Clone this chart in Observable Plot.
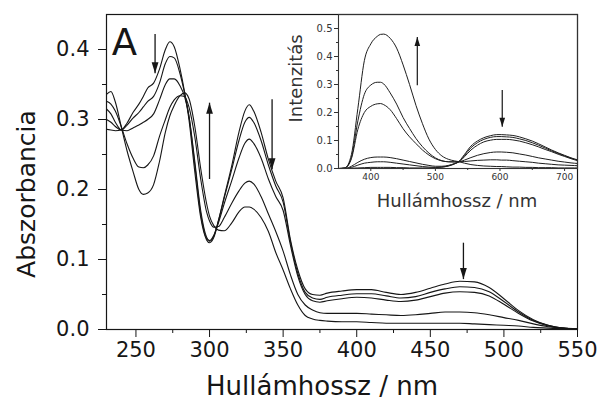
<!DOCTYPE html>
<html><head><meta charset="utf-8">
<script src="https://cdn.jsdelivr.net/npm/d3@7"></script>
<script src="https://cdn.jsdelivr.net/npm/@observablehq/plot@0.6"></script>
<style>
body{margin:0;background:#fff;}
#wrap{position:relative;width:601px;height:412px;background:#fff;}
#wrap svg{position:absolute;top:0;overflow:visible;}
</style></head><body><div id="wrap"></div>
<script>
// ---- Main absorbance spectra ----
const mainWavelength = [230,233,236,240,244,248,252,255,258,262,266,270,273,276,280,283,286,290,294,298,300,303,306,310,315,320,324,327,330,335,340,345,350,355,360,365,370,375,380,390,400,410,420,430,440,450,460,470,480,490,500,510,520,530,540,550];
const absorbance1 = [0.286,0.285,0.284,0.285,0.295,0.310,0.322,0.333,0.345,0.352,0.372,0.400,0.411,0.404,0.372,0.340,0.300,0.225,0.160,0.128,0.124,0.132,0.155,0.190,0.233,0.282,0.312,0.321,0.312,0.282,0.243,0.212,0.188,0.128,0.085,0.058,0.050,0.049,0.052,0.055,0.057,0.057,0.053,0.050,0.053,0.059,0.065,0.069,0.068,0.060,0.044,0.027,0.014,0.006,0.002,0.001];
const absorbance2 = [0.300,0.296,0.290,0.285,0.292,0.302,0.310,0.318,0.326,0.333,0.352,0.380,0.390,0.388,0.365,0.338,0.305,0.235,0.165,0.130,0.126,0.134,0.155,0.188,0.228,0.270,0.296,0.303,0.296,0.270,0.235,0.205,0.182,0.125,0.080,0.053,0.045,0.043,0.046,0.049,0.051,0.051,0.048,0.045,0.047,0.053,0.058,0.061,0.060,0.054,0.040,0.025,0.013,0.006,0.002,0.001];
const absorbance3 = [0.315,0.308,0.296,0.285,0.284,0.288,0.292,0.296,0.300,0.308,0.328,0.350,0.358,0.358,0.348,0.333,0.305,0.240,0.170,0.132,0.127,0.135,0.152,0.180,0.212,0.245,0.266,0.272,0.266,0.245,0.215,0.190,0.170,0.120,0.076,0.050,0.041,0.039,0.041,0.044,0.046,0.045,0.042,0.040,0.042,0.047,0.052,0.054,0.053,0.048,0.036,0.023,0.012,0.005,0.002,0.001];
const absorbance4 = [0.326,0.322,0.312,0.290,0.265,0.245,0.232,0.231,0.235,0.248,0.276,0.300,0.317,0.328,0.334,0.333,0.318,0.275,0.215,0.168,0.155,0.146,0.147,0.160,0.180,0.198,0.209,0.212,0.208,0.190,0.165,0.140,0.112,0.078,0.050,0.035,0.028,0.024,0.023,0.023,0.023,0.022,0.021,0.020,0.021,0.023,0.025,0.025,0.024,0.021,0.017,0.013,0.008,0.004,0.002,0.001];
const absorbance5 = [0.336,0.340,0.325,0.290,0.255,0.226,0.200,0.193,0.195,0.207,0.240,0.282,0.305,0.320,0.334,0.338,0.330,0.290,0.230,0.180,0.162,0.148,0.142,0.141,0.152,0.168,0.175,0.175,0.172,0.160,0.140,0.110,0.085,0.058,0.035,0.020,0.015,0.013,0.012,0.011,0.011,0.010,0.009,0.009,0.009,0.009,0.009,0.009,0.008,0.007,0.006,0.005,0.003,0.002,0.001,0.001];
const mainXTicks = [250,300,350,400,450,500,550];
const mainXMinorTicks = [275,325,375,425,475,525];
const mainYTicks = [0,0.1,0.2,0.3,0.4];
const mainYMinorTicks = [0.05,0.15,0.25,0.35];
const mainArrowWl = [263,300,342.5,472.5];
const mainArrowStart = [0.422,0.215,0.329,0.124];
const mainArrowEnd = [0.366,0.324,0.229,0.072];

// ---- Inset emission spectra ----
const insetWavelength = [350,360,370,380,390,400,410,415,420,430,440,450,460,470,480,490,500,510,520,530,537,545,555,565,575,585,595,602,610,620,630,640,650,660,670,680,690,700,710,720];
const intensityA = [0,0,0.001,0.002,0.003,0.004,0.004,0.004,0.004,0.004,0.003,0.003,0.002,0.002,0.002,0.002,0.003,0.005,0.009,0.017,0.027,0.050,0.080,0.098,0.110,0.117,0.121,0.121,0.120,0.118,0.113,0.106,0.098,0.088,0.077,0.066,0.056,0.047,0.038,0.031];
const intensityB = [0,0,0.004,0.012,0.019,0.022,0.024,0.024,0.024,0.022,0.019,0.016,0.013,0.010,0.007,0.005,0.004,0.005,0.009,0.017,0.025,0.046,0.074,0.092,0.104,0.111,0.114,0.114,0.113,0.111,0.106,0.100,0.092,0.083,0.073,0.063,0.054,0.045,0.037,0.030];
const intensityC = [0,0,0.008,0.022,0.033,0.039,0.041,0.041,0.041,0.039,0.035,0.030,0.025,0.020,0.015,0.011,0.008,0.008,0.011,0.018,0.024,0.042,0.066,0.083,0.095,0.101,0.104,0.104,0.104,0.102,0.098,0.092,0.085,0.077,0.068,0.060,0.051,0.043,0.035,0.028];
const intensityD = [0,0.002,0.035,0.140,0.200,0.222,0.231,0.232,0.228,0.210,0.178,0.142,0.113,0.089,0.066,0.048,0.035,0.027,0.024,0.023,0.024,0.030,0.039,0.047,0.053,0.057,0.059,0.059,0.058,0.056,0.052,0.048,0.043,0.038,0.034,0.030,0.026,0.023,0.020,0.018];
const intensityE = [0,0.002,0.040,0.170,0.265,0.298,0.308,0.308,0.302,0.270,0.230,0.182,0.143,0.107,0.078,0.055,0.038,0.028,0.024,0.024,0.024,0.025,0.027,0.029,0.030,0.031,0.031,0.030,0.030,0.028,0.026,0.024,0.022,0.019,0.017,0.015,0.013,0.012,0.011,0.010];
const intensityF = [0,0.002,0.050,0.215,0.385,0.445,0.472,0.479,0.480,0.465,0.430,0.370,0.300,0.225,0.160,0.105,0.068,0.045,0.033,0.027,0.024,0.019,0.014,0.011,0.009,0.008,0.007,0.007,0.006,0.005,0.005,0.004,0.004,0.003,0.003,0.003,0.002,0.002,0.002,0.002];
const insetXTicks = [400,500,600,700];
const insetXMinorTicks = [450,550,650];
const insetYTicks = [0,0.1,0.2,0.3,0.4,0.5];
const insetYMinorTicks = [0.05,0.15,0.25,0.35,0.45];
const insetArrowWl = [472,603.5];
const insetArrowStart = [0.297,0.28];
const insetArrowEnd = [0.47,0.149];

// ---- helpers ----
const FONT = "DejaVu Sans, Liberation Sans, Arial, sans-serif";
const INK = "#161616";
const upHead = {draw(c){ c.moveTo(0,0); c.lineTo(3.4,11); c.lineTo(-3.4,11); c.closePath(); }};
const downHead = {draw(c){ c.moveTo(0,0); c.lineTo(3.4,-11); c.lineTo(-3.4,-11); c.closePath(); }};
const smallUp = {draw(c){ c.moveTo(0,0); c.lineTo(2.8,9); c.lineTo(-2.8,9); c.closePath(); }};
const smallDown = {draw(c){ c.moveTo(0,0); c.lineTo(2.8,-9); c.lineTo(-2.8,-9); c.closePath(); }};

function tidy(xs, seriesList) {
  return seriesList.flatMap((vals, s) => vals.map((v, i) => ({x: xs[i], y: v, s})));
}
function arrows(wl, a, b) {
  return wl.map((w, i) => ({x: w, from: a[i], to: b[i], up: b[i] > a[i]}));
}

const mainData = tidy(mainWavelength, [absorbance1, absorbance2, absorbance3, absorbance4, absorbance5]);
const mainArrows = arrows(mainArrowWl, mainArrowStart, mainArrowEnd);
const fmt1 = d3.format(".1f");

const main = Plot.plot({
  width: 601, height: 412,
  marginLeft: 106, marginRight: 24, marginTop: 14, marginBottom: 83,
  x: {domain: [230, 550]},
  y: {domain: [0, 0.45]},
  style: {fontFamily: FONT, fontSize: "21px", color: INK, background: "transparent"},
  marks: [
    Plot.axisX(mainXTicks, {tickSize: 8, tickPadding: 5, tickFormat: d => String(d), label: null}),
    Plot.axisX(mainXMinorTicks, {tickSize: 4, tickFormat: () => "", label: null}),
    Plot.axisY(mainYTicks, {tickSize: 8, tickPadding: 9, tickFormat: fmt1, label: null}),
    Plot.axisY(mainYMinorTicks, {tickSize: 4, tickFormat: () => "", label: null}),
    Plot.line(mainData, {x: "x", y: "y", z: "s", stroke: INK, strokeWidth: 1.1, curve: "monotone-x"}),
    Plot.link(mainArrows, {x1: "x", x2: "x", y1: "from", y2: "to", stroke: INK, strokeWidth: 1.3}),
    Plot.dot(mainArrows.filter(d => d.up), {x: "x", y: "to", symbol: upHead, fill: INK, stroke: null}),
    Plot.dot(mainArrows.filter(d => !d.up), {x: "x", y: "to", symbol: downHead, fill: INK, stroke: null}),
    Plot.frame({stroke: INK, strokeWidth: 1.2}),
    Plot.text(["A"], {text: d => d, frameAnchor: "top-left", dx: 18, dy: 14, fontSize: 37, textAnchor: "middle", lineAnchor: "top"}),
    Plot.text(["Hullámhossz / nm"], {text: d => d, frameAnchor: "bottom", dx: -20, dy: 65, fontSize: 26, textAnchor: "middle"}),
    Plot.text(["Abszorbancia"], {text: d => d, frameAnchor: "left", dx: -80, dy: 22, rotate: -90, fontSize: 25, textAnchor: "middle", lineAnchor: "middle"})
  ]
});

const insetData = tidy(insetWavelength, [intensityA, intensityB, intensityC, intensityD, intensityE, intensityF]);
const insetArrows = arrows(insetArrowWl, insetArrowStart, insetArrowEnd);

const inset = Plot.plot({
  width: 321, height: 215,
  marginLeft: 58, marginRight: 24, marginTop: 14, marginBottom: 47,
  x: {domain: [350, 720]},
  y: {domain: [0, 0.55]},
  style: {fontFamily: FONT, fontSize: "10px", color: "#333", background: "transparent", overflow: "visible"},
  marks: [
    Plot.axisX(insetXTicks, {tickSize: 3, tickPadding: 2, tickFormat: d => String(d), fontSize: 9, label: null}),
    Plot.axisX(insetXMinorTicks, {tickSize: 2, tickFormat: () => "", label: null}),
    Plot.axisY(insetYTicks, {tickSize: 4, tickPadding: 2, tickFormat: fmt1, label: null}),
    Plot.axisY(insetYMinorTicks, {tickSize: 2, tickFormat: () => "", label: null}),
    Plot.line(insetData, {x: "x", y: "y", z: "s", stroke: "#1e1e1e", strokeWidth: 1, curve: "monotone-x"}),
    Plot.link(insetArrows, {x1: "x", x2: "x", y1: "from", y2: "to", stroke: INK, strokeWidth: 1.2}),
    Plot.dot(insetArrows.filter(d => d.up), {x: "x", y: "to", symbol: smallUp, fill: INK, stroke: null}),
    Plot.dot(insetArrows.filter(d => !d.up), {x: "x", y: "to", symbol: smallDown, fill: INK, stroke: null}),
    Plot.frame({stroke: "#333", strokeWidth: 1.1}),
    Plot.text(["Hullámhossz / nm"], {text: d => d, frameAnchor: "bottom", dx: -1, dy: 38, fontSize: 18, fill: "#333", textAnchor: "middle"}),
    Plot.text(["Intenzitás"], {text: d => d, frameAnchor: "left", dx: -42, dy: -13, rotate: -90, fontSize: 18, fill: "#333", textAnchor: "middle", lineAnchor: "middle"})
  ]
});

const wrap = document.getElementById("wrap");
main.style.left = "0px";
inset.style.left = "280px";
wrap.appendChild(main);
wrap.appendChild(inset);
</script>
</body></html>
